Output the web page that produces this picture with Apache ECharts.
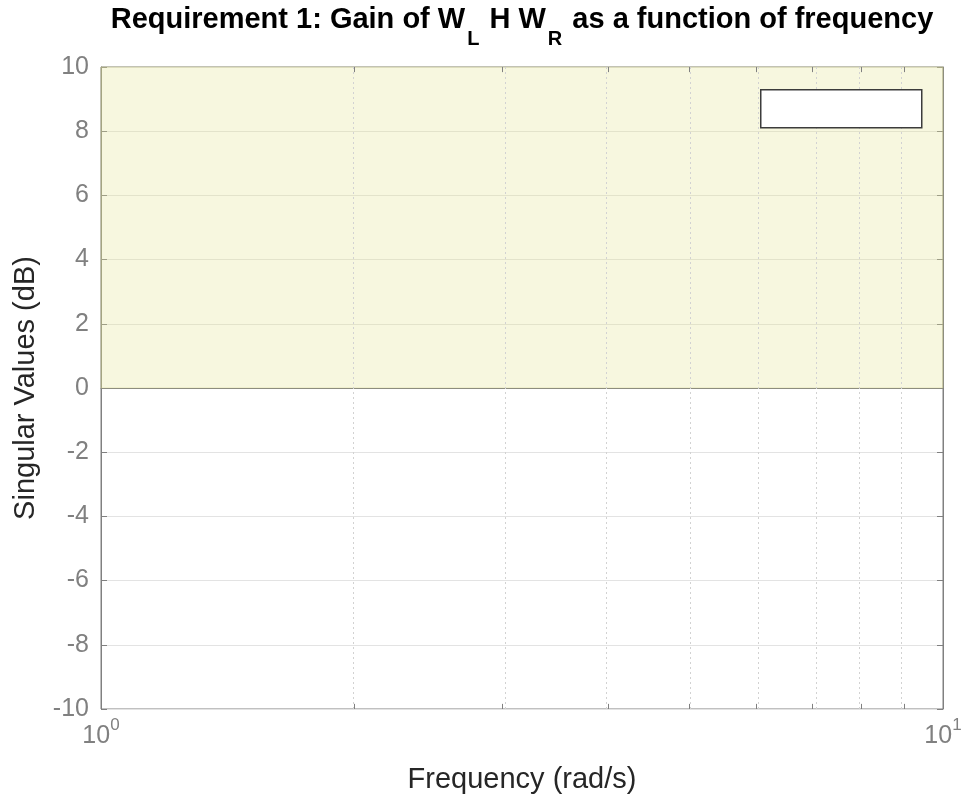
<!DOCTYPE html>
<html><head><meta charset="utf-8">
<script src="https://cdn.jsdelivr.net/npm/echarts@6/dist/echarts.min.js"></script>
<style>html,body{margin:0;padding:0;background:#fff}#c{width:965px;height:799px}</style>
</head><body><div id="c"></div>
<script>
// Frequency axis (rad/s), log scale
const freqRange = [1, 10];
const xMajorTicks = [1, 10];
const xMinorTicks = [2, 3, 4, 5, 6, 7, 8, 9];
// Singular values axis (dB)
const gainRange = [-10, 10];
const gainStep = 2;
// Requirement bound: gain must stay below 0 dB; violation region shaded up to the top
const boundFreq = [1, 10];
const boundGain = [0, 0];
const shadeTop = 10;

const lg = v => Math.log10(v);
const FONT = '"Liberation Sans", Arial, Helvetica, sans-serif';

const minorGrid = xMinorTicks.map(f => ({ xAxis: lg(f) }));
const minorTicksBottom = xMinorTicks.map(f => [{ coord: [lg(f), gainRange[0]] }, { coord: [lg(f), gainRange[0] + 0.16] }]);
const minorTicksTop = xMinorTicks.map(f => [{ coord: [lg(f), gainRange[1]] }, { coord: [lg(f), gainRange[1] - 0.16] }]);

const chart = echarts.init(document.getElementById('c'), null, { renderer: 'canvas' });
chart.setOption({
  animation: false,
  backgroundColor: '#fff',
  textStyle: { fontFamily: FONT },
  title: {
    left: 517, top: 0, textAlign: 'center',
    text: '{b|Requirement 1: Gain of W}{s|L}{b| H W}{s|R}{b| as a function of frequency}',
    textStyle: {
      rich: {
        b: { fontFamily: FONT, fontSize: 29, fontWeight: 'bold', color: '#000', lineHeight: 34, verticalAlign: 'top' },
        s: { fontFamily: FONT, fontSize: 20, fontWeight: 'bold', color: '#000', lineHeight: 20, verticalAlign: 'top', padding: [24, 2, 0, 2] }
      }
    }
  },
  grid: { left: 101, right: 22, top: 67, bottom: 90, show: true, borderColor: '#808080', borderWidth: 1, backgroundColor: 'transparent', containLabel: false },
  xAxis: [{
    type: 'value', position: 'bottom',
    min: lg(freqRange[0]), max: lg(freqRange[1]), interval: lg(xMajorTicks[1]) - lg(xMajorTicks[0]),
    name: 'Frequency (rad/s)', nameLocation: 'middle', nameGap: 56,
    nameTextStyle: { fontFamily: FONT, fontSize: 29, color: '#262626' },
    axisLine: { show: true, lineStyle: { color: '#808080', width: 1 } },
    axisTick: { show: false },
    splitLine: { show: false },
    axisLabel: {
      margin: 8,
      formatter: v => '{b|10}{p|' + Math.round(v) + '}',
      rich: {
        b: { fontFamily: FONT, fontSize: 25, color: '#808080', verticalAlign: 'top', lineHeight: 26, padding: [7, 0, 0, 0] },
        p: { fontFamily: FONT, fontSize: 17, color: '#808080', verticalAlign: 'top', lineHeight: 18 }
      }
    }
  }],
  yAxis: [{
    type: 'value', position: 'left',
    min: gainRange[0], max: gainRange[1], interval: gainStep,
    name: 'Singular Values (dB)', nameLocation: 'middle', nameGap: 61,
    nameTextStyle: { fontFamily: FONT, fontSize: 29, color: '#262626' },
    axisLine: { show: true, lineStyle: { color: '#808080', width: 1 } },
    axisTick: { show: true, inside: true, length: 6, lineStyle: { color: '#808080' } },
    axisLabel: { fontFamily: FONT, fontSize: 25, color: '#808080', margin: 12 },
    splitLine: { show: true, lineStyle: { color: '#e3e3e3', width: 1, type: 'solid' } }
  }, {
    type: 'value', position: 'right',
    min: gainRange[0], max: gainRange[1], interval: gainStep,
    axisLine: { show: true, lineStyle: { color: '#808080', width: 1 } },
    axisTick: { show: true, inside: true, length: 6, lineStyle: { color: '#808080' } },
    axisLabel: { show: false },
    splitLine: { show: false }
  }],
  series: [{
    type: 'line', name: 'bound',
    data: boundFreq.map((f, i) => [lg(f), boundGain[i]]),
    showSymbol: false,
    lineStyle: { width: 0, opacity: 0 },
    silent: true,
    markArea: {
      silent: true,
      itemStyle: { color: 'rgba(230,230,150,0.3)', borderColor: 'rgba(200,200,120,0.35)', borderWidth: 1 },
      data: [[{ xAxis: lg(boundFreq[0]), yAxis: boundGain[0] }, { xAxis: lg(boundFreq[1]), yAxis: shadeTop }]]
    },
    markLine: {
      silent: true, symbol: 'none', label: { show: false },
      lineStyle: { color: '#d2d2d2', width: 1, type: [2, 3] },
      data: minorGrid
    }
  }, {
    type: 'line', name: 'ticks', data: [], silent: true,
    markLine: {
      silent: true, symbol: 'none', label: { show: false },
      lineStyle: { color: '#808080', width: 1, type: 'solid' },
      data: minorTicksBottom.concat(minorTicksTop)
    }
  }],
  graphic: [{
    type: 'rect', left: 760, top: 89, z: 100,
    shape: { width: 161, height: 38 },
    style: { fill: '#fff', stroke: '#3c3c3c', lineWidth: 1.5 }
  }]
});
</script></body></html>
